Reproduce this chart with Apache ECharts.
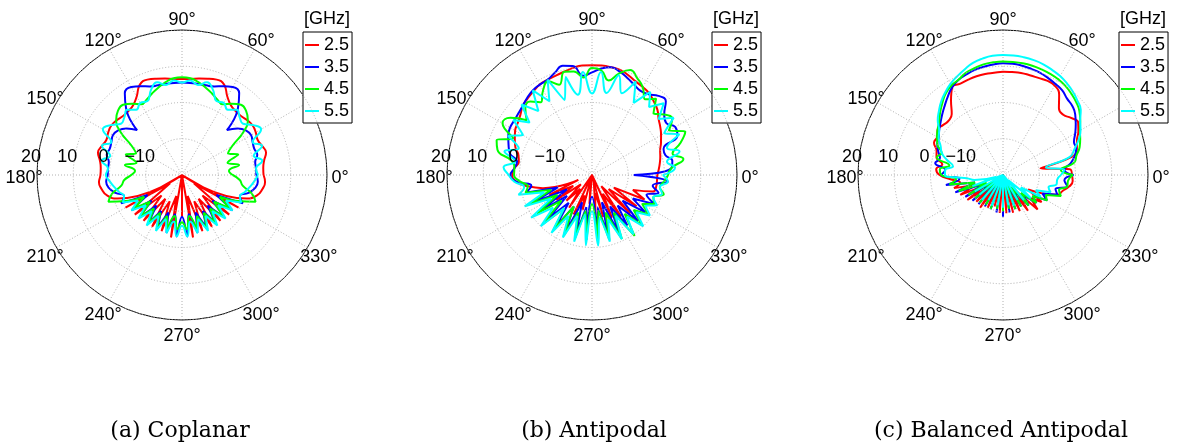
<!DOCTYPE html>
<html>
<head>
<meta charset="utf-8">
<script src="https://cdn.jsdelivr.net/npm/echarts@6/dist/echarts.min.js"></script>
<style>
  html, body { margin: 0; padding: 0; background: #fff; }
  #chart { width: 1181px; height: 447px; }
</style>
</head>
<body>
<div id="chart"></div>
<script>
// angles in degrees (counter-clockwise from 0°), values in dB
const angles = [0, 5, 10, 15, 20, 25, 30, 35, 40, 45, 50, 55, 60, 65, 70, 75, 80, 85,
  90, 95, 100, 105, 110, 115, 120, 125, 130, 135, 140, 145, 150, 155, 160, 165, 170, 175,
  180, 185, 190, 195, 200, 205, 210, 215, 220, 225, 230, 235, 240, 245, 250, 255, 260, 265,
  270, 275, 280, 285, 290, 295, 300, 305, 310, 315, 320, 325, 330, 335, 340, 345, 350, 355]

const freqs = ['2.5', '3.5', '4.5', '5.5']
const colors = ['#ff0000', '#0000ff', '#00ff00', '#00ffff']
const angleTicks = [0, 30, 60, 90, 120, 150, 180, 210, 240, 270, 300, 330]
const radiusTicks = [-20, -10, 0, 10, 20]
const captions = ['(a) Coplanar', '(b) Antipodal', '(c) Balanced Antipodal']

// (a) Coplanar
const coplanar25 = [2.5, 2.5, 3, 4, 3.5, 3, 3.5, 3.8, 3.5, 3, 3, 3.5, 5, 7.5, 8, 7.5, 7, 6.6,
  6.5, 6.6, 7, 7.5, 8, 7.5, 5, 3.5, 3, 3, 3.5, 3.8, 3.5, 3, 3.5, 4, 3, 2.5,
  2.5, 3, 2.5, 1.5, -1, -20, -2, -16, -3, -12, -3.5, -12, -3.5, -12, -3.5, -14, -2.5, -20,
  -8.5, -20, -2.5, -14, -3.5, -12, -3.5, -12, -3.5, -12, -3, -16, -2, -20, -1, 1.5, 2.5, 3]
const coplanar35 = [0.5, 0.5, 0.5, 1.5, 1.2, 1.5, 2, 1.5, 0, -2.5, 4, 7.5, 8, 7, 6, 5.6, 5.5, 5.5,
  5.5, 5.5, 5.5, 5.6, 6, 7, 8, 7.5, 4, -2.5, 0, 1.5, 2, 1.5, 1.2, 1.5, 0.5, 0.5,
  0.5, 1, 0.5, -1, -3, -1.5, -9, -3, -9, -3.5, -9, -4, -8.5, -4, -9, -3.5, -9, -3,
  -8.5, -3, -9, -3.5, -9, -4, -8.5, -4, -9, -3.5, -9, -3, -9, -1.5, -3, -1, 0.5, 1]
const coplanar45 = [-6, -7, -4, -7, -3.5, -6, -4, 0.7, 3.7, 5, 5.3, 4, 2.5, 3, 4, 5, 6, 6.8,
  7, 6.8, 6, 5, 4, 3, 2.5, 4, 5.3, 5, 3.7, 0.7, -4, -6, -3.5, -7, -4, -7,
  -6, -4, -3, 0, 1.6, -3, -8, -4, -8.5, -4, -8, -4, -8, -3.5, -8, -4, -8.5, -5,
  -7, -5, -8.5, -4, -8, -3.5, -8, -4, -8, -4, -8.5, -4, -8, -3, 1.6, 0, -3, -4]
const coplanar55 = [1, 0.5, 2.5, 0.5, 3.5, 1.5, 5.2, 4, 2, 2.5, 3.5, 2, 3, 2.5, 5, 6.5, 5.2, 6.2,
  5.5, 6.2, 5.2, 6.5, 5, 2.5, 3, 2, 3.5, 2.5, 2, 4, 5.2, 1.5, 3.5, 0.5, 2.5, 0.5,
  1, 0, -1, -2, -3, -2, -6, -3, -7, -3, -7, -3, -7, -3, -7, -3.5, -7, -3,
  -6, -3, -7, -3.5, -7, -3, -7, -3, -7, -3, -7, -3, -6, -2, -3, -2, -1, 0]

// (b) Antipodal
const antipodal25 = [-2, -1.5, -1, -0.5, 0, 1, 2, 3, 4, 5.5, 6.5, 7.5, 8, 8.5, 9.3, 10, 10.2, 10.3,
  10.3, 10.3, 10, 9.5, 9.2, 9, 8.8, 8.2, 7.6, 7, 5.8, 5, 4.5, 3.5, 2.5, 1, 0.5, 1.5,
  2, 1, -2, -6, -16, -7, -14, -8, -16, -10, -15, -9, -20, -8, -14, -10, -20, -12,
  -20, -9, -15, -8, -20, -7, -14, -6, -16, -5, -14, -5, -13, -4, -8, -2.5, -2, -2]
const antipodal35 = [-8.5, 2, 2.5, 1, 1, 6, 6.5, 5, 6, 8.8, 8.5, 7.2, 6.8, 7.5, 8.5, 9.5, 10.2, 9.5,
  8.3, 7.5, 10.5, 11.2, 10, 9, 8.8, 8.5, 7.8, 7, 6.5, 6.2, 6.1, 5.5, 4.5, 3.5, 1, 1.5,
  2.5, 1, -3, -1, -10, -2, -12, -3, -11, -3, -10, -2.5, -10, -2.5, -12, -3, -11, -2,
  -14, -2.5, -11, -3, -12, -2, -10, -3, -9, -2, -9, -2, -7, -1, -4, -1, -3, 1]
const antipodal45 = [1, 2, 5.6, 3, 6, 8.4, 4.5, 7, 6, 4, 7.5, 5.5, 8, 9.5, 10.8, 9, 6.5, 9,
  9.5, 7, 9, 9.5, 6.5, 8.5, 7, 4.5, 6.5, 6, 3.5, 7.5, 8.5, 4, 8, 7, 2.5, 1.5,
  1.5, 0, -2, -1, -8, -1, -9, -1.5, -9, -1, -8, -1.5, -10, -1.5, -9, -2, -10, -2,
  -12, -1.5, -10, -1.5, -9, -0.5, -8, 0.5, -6, -0.5, -5, -1, -4, -1, -2, 0.5, -1, 0]
const antipodal55 = [-0.5, 3, 1, 5, 2, 6.5, 3, 7.5, 4, 8, 4.5, 8, 3, 8.5, 4, 8.5, 3, 8.5,
  2.5, 8.5, 2.5, 8, 2, 9, 3.5, 8.5, 3, 7.5, 2.5, 6.5, 2, 5.5, 1.5, 5, 1.5, 4.5,
  3, 1.5, -1, 1, -6, 0.5, -7, 0.5, -6, 0, -8, -0.5, -7, -1, -8, -1, -9, -0.5,
  -10, -0.5, -8, -1, -7, -0.5, -7, 0, -5, 0, -4, -0.5, -3, -0.2, -2, 0, -1, 1]

// (c) Balanced Antipodal
const balanced25 = [-1, -1.5, -9.5, 0, 1.7, 2.5, 4, 5.3, 4.5, 3.5, 4, 7, 8.5, 8.7, 8.5, 8.5, 8.6, 8.5,
  8.5, 8.3, 8.3, 8.2, 8, 7.8, 8, 5, 2, 1.2, 1.5, 2, 1, 1, -0.5, -1, -3, -1.5,
  -2.5, -5.7, -8, -6, -12, -7, -14, -8, -15, -9.6, -16, -9, -16, -10, -18, -11, -20, -9.5,
  -20, -9.4, -20, -9.2, -17, -9, -15, -8, -14, -6.5, -10, -7, -12, -8, -4, -3, -1.5, -0.7]
const balanced35 = [-0.5, -3, -1, 0.5, 1.5, 1.6, 3, 4.5, 6, 7, 7.5, 8.5, 9, 9.5, 10, 10.3, 10.6, 10.8,
  10.8, 10.6, 10.3, 10, 9.5, 9, 8, 6.5, 5, 3.7, 2.5, 1.5, 0.5, 0, -1, -2, -1, -4,
  -3, -8, -4, -12, -6, -14, -8, -16, -9, -17, -9.5, -18, -10, -19, -10, -20, -9.5, -20,
  -8.5, -20, -9.5, -19, -10, -17, -10, -15, -9, -12, -8, -10, -6, -8, -4, -5, -2, -3]
const balanced45 = [-0.7, -4, 0, 1, 2.5, 3.5, 4.5, 6, 7.5, 8.5, 9.3, 10, 10.5, 10.8, 11, 11.2, 11.3, 11.3,
  11.3, 11.2, 11, 10.5, 10, 9, 8.5, 7.5, 6, 4.5, 3, 2, 1, 0, -2, -1.1, -5, -2.5,
  -3, -7, -5, -12, -7, -15, -9, -17, -10, -18, -10, -19, -10.5, -20, -10, -20, -10.5, -20,
  -10, -20, -10.5, -19, -10, -18, -10, -16, -9, -13, -8, -10, -6, -7, -3, -4, -2, -2]
const balanced55 = [-4, -3, -8, -1, 1, 3, 4.7, 6, 8, 9, 10, 10.8, 11.5, 12, 12.5, 12.8, 13, 13.1,
  13.1, 13, 12.6, 12, 11, 10, 9, 7.8, 6.5, 5, 3.5, 1.5, 0.5, -1, -2, -4, -6, -4,
  -4, -10, -12, -18, -11, -20, -11, -20, -11.5, -20, -11, -20, -12, -20, -11, -20, -11.5, -20,
  -11, -20, -11.5, -20, -11, -20, -12, -20, -11, -18, -10, -14, -8, -10, -6, -7, -5, -5]

const charts = [
  { center: [182, 175], legendLeft: 303, captionX: 180, data: [coplanar25, coplanar35, coplanar45, coplanar55] },
  { center: [592, 175], legendLeft: 712, captionX: 594, data: [antipodal25, antipodal35, antipodal45, antipodal55] },
  { center: [1003, 175], legendLeft: 1119, captionX: 1001, data: [balanced25, balanced35, balanced45, balanced55] }
]

const FONT = 'Liberation Sans'
const R = 145
const gridStyle = { color: '#b0b0b0', width: 1, type: [1, 2] }

// angle axis starts at the left (180°) so the radius labels sit on that spoke
const toAxisAngle = a => (a + 180) % 360
const fmtRadius = v => (v < 0 ? '\u2212' + (-v) : String(v))

// MATLAB centres the angle labels on a circle; ECharts aligns them by their edge.
// Horizontal: padding on the text token. Vertical: an empty spacer line.
const LABEL_MARGIN = -35
const LABEL_R = 158
const LABEL_LH = 18
const LABEL_DROP = 3
const measure = document.createElement('canvas').getContext('2d')
measure.font = '18px "Liberation Sans"'
const angleRich = {}
const angleLabelText = {}
angleTicks.forEach(t => {
  const rad = t * Math.PI / 180
  const a = R + LABEL_MARGIN
  const px = a * Math.cos(rad), py = a * Math.sin(rad)
  const tx = LABEL_R * Math.cos(rad), ty = LABEL_R * Math.sin(rad) - LABEL_DROP
  const w = measure.measureText(t + '°').width
  let pl = 0, pr = 0
  if (Math.abs(px) / R < 0.3) {
    const s = tx - px
    if (s > 0) pl = 2 * s; else pr = -2 * s
  } else if (px > 0) {
    pl = tx - px - w / 2
  } else {
    pr = px - w / 2 - tx
  }
  let above = 0, below = 0
  if (Math.abs(py) / R < 0.3) {
    const s = ty - py
    if (s > 0) below = 2 * s; else above = -2 * s
  } else if (py > 0) {
    below = ty - py - LABEL_LH / 2
  } else {
    above = py - LABEL_LH / 2 - ty
  }
  angleRich['a' + t] = {
    fontFamily: FONT,
    fontSize: 18,
    lineHeight: LABEL_LH,
    color: '#000',
    padding: [0, Math.max(pr, 0), 0, Math.max(pl, 0)]
  }
  angleRich['s' + t] = { fontSize: 1, lineHeight: Math.max(above, below, 1) }
  let txt = '{a' + t + '|' + t + '°}'
  if (below > 0) txt = txt + '\n{s' + t + '| }'
  if (above > 0) txt = '{s' + t + '| }\n' + txt
  angleLabelText[t] = txt
})

const option = {
  backgroundColor: '#fff',
  animation: false,
  polar: charts.map(c => ({ center: c.center, radius: R })),
  angleAxis: charts.map((c, i) => ({
    polarIndex: i,
    type: 'value',
    min: 0,
    max: 360,
    interval: 30,
    startAngle: 180,
    clockwise: false,
    axisLine: { lineStyle: { color: '#000', width: 1 } },
    axisTick: { show: false },
    axisLabel: {
      margin: LABEL_MARGIN,
      formatter: v => angleLabelText[(v + 180) % 360],
      rich: angleRich
    },
    splitLine: { show: true, lineStyle: gridStyle }
  })),
  radiusAxis: charts.map((c, i) => ({
    polarIndex: i,
    type: 'value',
    z: 5,
    min: radiusTicks[0],
    max: radiusTicks[radiusTicks.length - 1],
    interval: 10,
    axisLine: { show: false },
    axisTick: { show: false },
    axisLabel: {
      showMinLabel: false,
      margin: -9,
      verticalAlign: 'bottom',
      color: '#000',
      fontFamily: FONT,
      fontSize: 18,
      padding: [0, 12, 0, 0],
      formatter: fmtRadius
    },
    splitLine: { show: true, lineStyle: gridStyle }
  })),
  legend: charts.map(c => ({
    data: freqs,
    orient: 'vertical',
    left: c.legendLeft,
    top: 32,
    icon: 'rect',
    itemWidth: 14,
    itemHeight: 2,
    itemGap: 4,
    padding: [4, 3, 3, 2],
    borderColor: '#000',
    borderWidth: 1,
    backgroundColor: '#fff',
    selectedMode: false,
    textStyle: { color: '#000', fontFamily: FONT, fontSize: 18, lineHeight: 18 }
  })),
  graphic: [
    ...charts.map(c => ({
      type: 'text',
      left: c.legendLeft + 1,
      top: 10,
      style: { text: '[GHz]', fill: '#000', font: '18px "Liberation Sans"' }
    })),
    ...charts.map((c, i) => ({
      type: 'text',
      x: c.captionX,
      y: 431,
      style: {
        text: captions[i],
        fill: '#000',
        font: '22px "DejaVu Serif"',
        textAlign: 'center',
        textVerticalAlign: 'middle'
      }
    }))
  ],
  series: charts.flatMap((c, ci) => c.data.map((vals, si) => ({
    name: freqs[si],
    type: 'line',
    coordinateSystem: 'polar',
    polarIndex: ci,
    symbol: 'none',
    smooth: 0.5,
    lineStyle: { color: colors[si], width: 2 },
    itemStyle: { color: colors[si] },
    data: angles.map((a, k) => [vals[k], toAxisAngle(a)]).concat([[vals[0], toAxisAngle(360)]])
  })))
}

const chart = echarts.init(document.getElementById('chart'))
chart.setOption(option)
</script>
</body>
</html>
